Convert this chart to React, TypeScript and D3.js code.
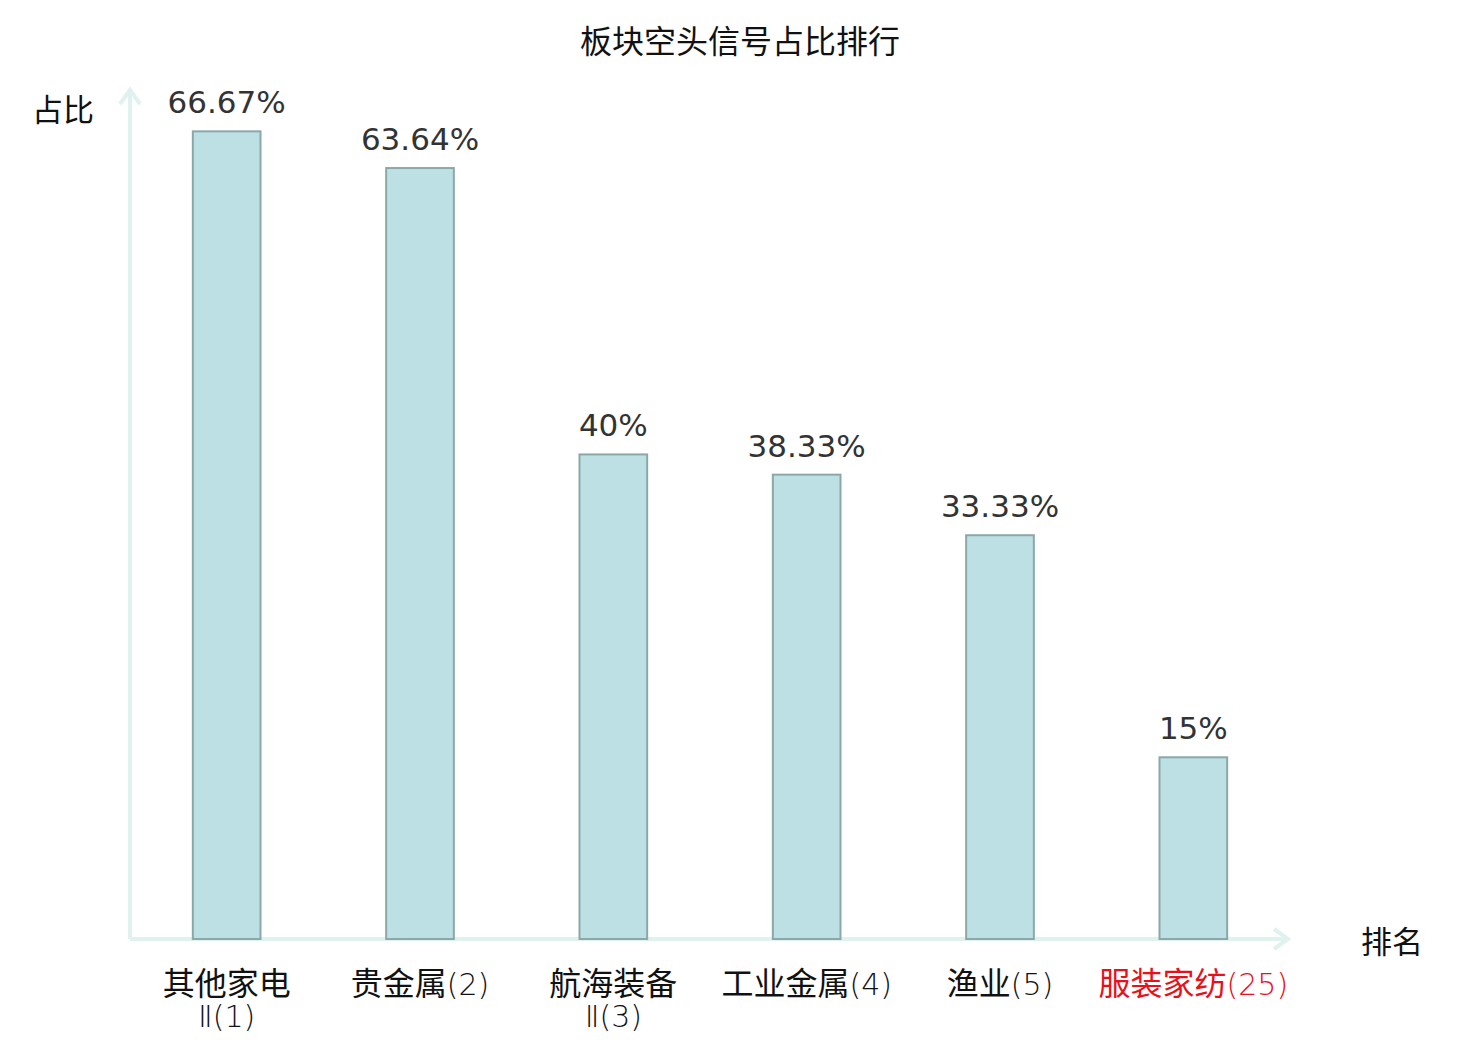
import React from "react";
import * as d3 from "d3";

const categories: string[][] = [
  ["其他家电", "Ⅱ(1)"],
  ["贵金属(2)"],
  ["航海装备", "Ⅱ(3)"],
  ["工业金属(4)"],
  ["渔业(5)"],
  ["服装家纺(25)"],
];
const values: number[] = [66.67, 63.64, 40, 38.33, 33.33, 15];
const valueLabels: string[] = ["66.67%", "63.64%", "40%", "38.33%", "33.33%", "15%"];
const highlight: boolean[] = [false, false, false, false, false, true];

const W = 1480;
const H = 1040;
const x0 = 130;
const x1 = 1290;
const yBase = 939;
const yTop = 91;

function splitLabel(s: string): [string, string] {
  const m = s.match(/^([^\(Ⅱ]*)(.*)$/);
  return m ? [m[1], m[2]] : [s, ""];
}

export default function App() {
  const x = d3
    .scaleBand<number>()
    .domain(d3.range(values.length))
    .range([x0, x1])
    .paddingInner(0.65)
    .paddingOuter(0.325);
  const y = d3.scaleLinear().domain([0, 70]).range([yBase, yTop]);
  const axisColor = "#dff2ef";
  const cjk = "'Noto Sans CJK SC', 'DejaVu Sans', sans-serif";
  const num = "'DejaVu Sans', 'Noto Sans CJK SC', sans-serif";

  return (
    <svg
      width={W}
      height={H}
      style={{ position: "absolute", left: 0, top: 0, background: "#fff" }}
    >
      <text x={740} y={53} textAnchor="middle" fontFamily={cjk} fontSize={32} fill="#111">
        板块空头信号占比排行
      </text>
      {/* axes */}
      <line x1={x0} y1={yBase} x2={x0} y2={89} stroke={axisColor} strokeWidth={4} />
      <polyline points={`${x0 - 10},${104} ${x0},${90} ${x0 + 10},${104}`} fill="none" stroke={axisColor} strokeWidth={4} />
      <line x1={x0} y1={yBase} x2={1289} y2={yBase} stroke={axisColor} strokeWidth={4} />
      <polyline points={`${1274},${929} ${1288},${yBase} ${1274},${949}`} fill="none" stroke={axisColor} strokeWidth={4} />
      <text x={63} y={121} textAnchor="middle" fontFamily={cjk} fontSize={31} fill="#111">
        占比
      </text>
      <text x={1392} y={953} textAnchor="middle" fontFamily={cjk} fontSize={31} fill="#111">
        排名
      </text>
      {values.map((v, i) => {
        const bx = x(i)!;
        const bw = x.bandwidth();
        const cx = bx + bw / 2;
        return (
          <g key={i}>
            <rect
              x={bx}
              y={y(v)}
              width={bw}
              height={yBase - y(v)}
              fill="#bce0e3"
              stroke="#8ba8a8"
              strokeWidth={2}
            />
            <text x={cx} y={y(v) - 18} textAnchor="middle" fontFamily={num} fontSize={31} fill="#333">
              {valueLabels[i]}
            </text>
            {categories[i].map((line, j) => {
              const [a, b] = splitLabel(line);
              return (
                <text
                  key={j}
                  x={cx}
                  y={995 + j * 32}
                  textAnchor="middle"
                  fontFamily={cjk}
                  fontSize={32}
                  fill={highlight[i] ? "#e8101a" : "#111"}
                >
                  {a}
                  {b && (
                    <tspan fontFamily="'DejaVu Sans', sans-serif" fontWeight={200} fontSize={30}>
                      {b}
                    </tspan>
                  )}
                </text>
              );
            })}
          </g>
        );
      })}
    </svg>
  );
}
